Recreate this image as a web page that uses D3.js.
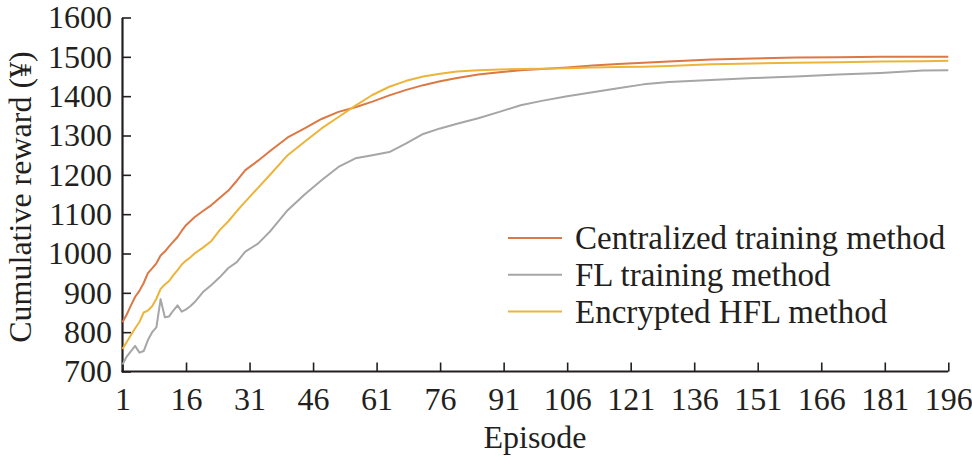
<!DOCTYPE html>
<html>
<head>
<meta charset="utf-8">
<script src="https://cdn.jsdelivr.net/npm/d3@7.9.0/dist/d3.min.js"></script>
<style>
  html, body { margin: 0; padding: 0; background: #fff; }
  svg text { font-family: "Liberation Serif", "Times New Roman", serif; fill: #231f20; }
</style>
</head>
<body>
<svg id="chart" width="972" height="460"></svg>
<script>
// episodes sampled (x values)
const episodes = [1, 2, 3, 4, 5, 6, 7, 8, 9, 10, 11, 12, 13, 14, 15, 16, 17, 18,
  20, 22, 24, 26, 28, 30, 33, 36, 40, 44, 48, 52, 56, 60, 64, 68, 72, 76, 80,
  85, 90, 95, 100, 106, 112, 118, 124, 130, 140, 150, 160, 170, 180, 190, 196];

const centralized = [825, 845, 868, 890, 905, 925, 950, 962, 975, 995, 1005, 1018, 1030, 1042, 1058, 1072, 1082, 1092,
  1108, 1123, 1142, 1160, 1185, 1212, 1236, 1262, 1295, 1318, 1342, 1360, 1372, 1386, 1402, 1416, 1428, 1438, 1446,
  1455, 1461, 1466, 1469, 1473, 1478, 1482, 1485, 1488, 1493, 1496, 1498, 1499, 1500, 1500, 1500];

const flTraining = [718, 738, 752, 765, 748, 752, 780, 800, 812, 884, 838, 840, 855, 868, 852, 858, 866, 876,
  902, 920, 940, 963, 978, 1005, 1025, 1058, 1110, 1150, 1186, 1220, 1242, 1250, 1258, 1280, 1304, 1318, 1330,
  1344, 1360, 1377, 1388, 1400, 1410, 1420, 1430, 1436, 1441, 1446, 1450, 1455, 1459, 1465, 1466];

const encryptedHFL = [757, 775, 793, 810, 826, 850, 855, 866, 885, 910, 921, 930, 945, 958, 972, 982, 990, 1000,
  1015, 1032, 1060, 1082, 1108, 1132, 1167, 1202, 1250, 1284, 1318, 1347, 1376, 1403, 1424, 1439, 1450, 1457, 1463,
  1466, 1468, 1469, 1470, 1471, 1473, 1474, 1475, 1477, 1481, 1483, 1485, 1486, 1488, 1489, 1490];

const xTicks = [1, 16, 31, 46, 61, 76, 91, 106, 121, 136, 151, 166, 181, 196];
const yTicks = [700, 800, 900, 1000, 1100, 1200, 1300, 1400, 1500, 1600];

const seriesNames = ["Centralized training method", "FL training method", "Encrypted HFL method"];
const seriesColors = ["#dc7844", "#a6a6a6", "#edb43a"];
const seriesValues = [centralized, flTraining, encryptedHFL];

const svg = d3.select("#chart");
const ink = "#231f20";
const serif = "Liberation Serif, Times New Roman, serif";

const x = d3.scaleLinear().domain([1, 196]).range([122.5, 948.3]);
const y = d3.scaleLinear().domain([700, 1600]).range([371.5, 17.5]);

// axes
const xAxis = svg.append("g")
  .attr("transform", `translate(0,${y(700)})`)
  .call(d3.axisBottom(x).tickValues(xTicks).tickSize(-9).tickPadding(16).tickSizeOuter(0));
xAxis.select(".domain").attr("stroke", ink).attr("stroke-width", 2.2)
  .attr("d", `M${x(1) - 1},0H${x(196)}`);
xAxis.selectAll(".tick line").attr("stroke", ink).attr("stroke-width", 1.6);
xAxis.selectAll(".tick text").attr("font-size", 32).attr("fill", ink).attr("font-family", serif);

const yAxis = svg.append("g")
  .attr("transform", `translate(${x(1) - 0.5},0)`)
  .call(d3.axisLeft(y).tickValues(yTicks).tickFormat(d3.format("d"))
    .tickSize(-9).tickPadding(10).tickSizeOuter(0));
yAxis.select(".domain").attr("stroke", ink).attr("stroke-width", 2.2);
yAxis.selectAll(".tick line").attr("stroke", ink).attr("stroke-width", 1.6);
yAxis.selectAll(".tick text").attr("font-size", 32).attr("fill", ink).attr("font-family", serif);

// axis titles
svg.append("text")
  .attr("x", 535).attr("y", 448)
  .attr("text-anchor", "middle")
  .attr("font-size", 32)
  .text("Episode");

svg.append("text")
  .attr("transform", "translate(31,197) rotate(-90)")
  .attr("text-anchor", "middle")
  .attr("font-size", 32)
  .text("Cumulative reward (¥)");

// lines
const line = d3.line()
  .x((d, i) => x(episodes[i]))
  .y(d => y(d));

seriesValues.forEach((vals, k) => {
  svg.append("path")
    .datum(vals)
    .attr("fill", "none")
    .attr("stroke", seriesColors[k])
    .attr("stroke-width", 2)
    .attr("stroke-linejoin", "round")
    .attr("d", line);
});

// legend
const legend = svg.append("g");
seriesNames.forEach((name, k) => {
  const ly = 238 + k * 36.8;
  legend.append("line")
    .attr("x1", 508).attr("x2", 562)
    .attr("y1", ly).attr("y2", ly)
    .attr("stroke", seriesColors[k])
    .attr("stroke-width", 2);
  legend.append("text")
    .attr("x", 575).attr("y", ly + 11)
    .attr("font-size", 33)
    .text(name);
});
</script>
</body>
</html>
